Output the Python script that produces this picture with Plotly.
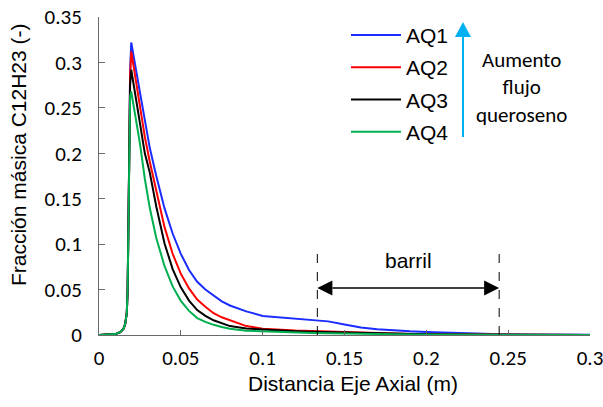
import plotly.graph_objects as go

x_dist = [0, 0.005, 0.01, 0.013, 0.015, 0.016, 0.017, 0.0175, 0.018, 0.0185, 0.019, 0.0197,
          0.022, 0.025, 0.028, 0.031, 0.035, 0.04, 0.045, 0.05, 0.055, 0.06, 0.065, 0.07,
          0.075, 0.08, 0.09, 0.1, 0.11, 0.12, 0.13, 0.14, 0.15, 0.16, 0.17, 0.18, 0.19,
          0.2, 0.22, 0.24, 0.26, 0.28, 0.3]

aq1 = [0, 0.0003, 0.001, 0.003, 0.007, 0.012, 0.025, 0.05, 0.11, 0.2, 0.29, 0.322,
       0.298, 0.267, 0.236, 0.206, 0.175, 0.1396, 0.1117, 0.0893, 0.0715, 0.0585, 0.050, 0.043,
       0.037, 0.0325, 0.026, 0.021, 0.0195, 0.0183, 0.017, 0.015, 0.0115, 0.0082, 0.0064, 0.005, 0.004,
       0.0032, 0.002, 0.0012, 0.0006, 0.0003, 0.0002]

aq2 = [0, 0.0003, 0.001, 0.003, 0.007, 0.012, 0.025, 0.05, 0.11, 0.2, 0.285, 0.312,
       0.286, 0.252, 0.218, 0.191, 0.158, 0.119, 0.0894, 0.0673, 0.0513, 0.039, 0.031, 0.024,
       0.0195, 0.016, 0.0098, 0.007, 0.0058, 0.005, 0.0044, 0.0038, 0.003, 0.0024, 0.0019, 0.0015, 0.0012,
       0.001, 0.0007, 0.0005, 0.0003, 0.0002, 0.0001]

aq3 = [0, 0.0003, 0.001, 0.003, 0.007, 0.012, 0.025, 0.05, 0.11, 0.2, 0.275, 0.292,
       0.266, 0.232, 0.200, 0.179, 0.1415, 0.101, 0.0725, 0.0524, 0.0379, 0.0274, 0.021, 0.0162,
       0.013, 0.0098, 0.0072, 0.006, 0.005, 0.0042, 0.0036, 0.0031, 0.0026, 0.0021, 0.0017, 0.0013, 0.001,
       0.0008, 0.0005, 0.0003, 0.0002, 0.0001, 0.0001]

aq4 = [0, 0.0003, 0.001, 0.003, 0.007, 0.012, 0.025, 0.05, 0.11, 0.2, 0.262, 0.268,
       0.243, 0.211, 0.172, 0.140, 0.1068, 0.076, 0.0535, 0.0376, 0.0265, 0.0186, 0.0145, 0.0112,
       0.0088, 0.007, 0.0048, 0.004, 0.0033, 0.0028, 0.0023, 0.0019, 0.0015, 0.0012, 0.001, 0.0008, 0.0006,
       0.0005, 0.0003, 0.0002, 0.0001, 0.0001, 0.0]

series_names = ["AQ1", "AQ2", "AQ3", "AQ4"]
series_values = [aq1, aq2, aq3, aq4]
series_colors = ["#1a2cff", "#ff0000", "#000000", "#00b050"]

barril_start = 0.1334
barril_end = 0.2445
barril_top = 0.0983
barril_arrow_y = 0.0517

CAL = "Carlito, Lato, sans-serif"
ARIAL = "Liberation Sans, Arial, sans-serif"

fig = go.Figure()
for name, vals, col in zip(series_names, series_values, series_colors):
    fig.add_trace(go.Scatter(x=x_dist, y=vals, mode="lines", name=name, legendgroup=name,
                             line=dict(color=col, width=2)))

axis_common = dict(showline=True, linecolor="#6a6a6a", linewidth=1, ticks="inside",
                   tickcolor="#6a6a6a", showgrid=False, zeroline=False, automargin=False,
                   ticklabeloverflow="allow",
                   tickfont=dict(family=CAL, size=21, color="#000000"))

fig.update_layout(
    width=603, height=407,
    margin=dict(l=99, r=13, t=17, b=72),
    paper_bgcolor="white", plot_bgcolor="white",
    showlegend=True,
    legend=dict(x=0.503, y=1.007, xanchor="left", yanchor="top", bgcolor="rgba(0,0,0,0)",
                font=dict(family=ARIAL, size=21, color="#000000"),
                tracegroupgap=2, itemwidth=50),
    xaxis=dict(range=[0, 0.3], dtick=0.05, ticklen=5, ticklabelstandoff=4, **axis_common),
    yaxis=dict(range=[0, 0.35], dtick=0.05, ticklen=6, ticklabelstandoff=12, **axis_common),
)

# axis titles as annotations
fig.add_annotation(text="Distancia Eje Axial (m)", xref="paper", yref="paper",
                   x=0.517, y=-0.151, showarrow=False, xanchor="center", yanchor="middle",
                   font=dict(family=ARIAL, size=21, color="#000000"))
fig.add_annotation(text="Fracción másica C12H23 (-)", textangle=-90, xref="paper", yref="paper",
                   x=-0.165, y=0.569, showarrow=False, xanchor="center", yanchor="middle",
                   font=dict(family=ARIAL, size=21, color="#000000"))

# barril dashed lines
for xv in [barril_start, barril_end]:
    fig.add_shape(type="line", x0=xv, x1=xv, y0=0, y1=barril_top, xref="x", yref="y",
                  line=dict(color="#000000", width=1, dash="dash"))

# double arrow
hx = 0.0092
hy = 0.0083
fig.add_shape(type="line", x0=barril_start + hx, x1=barril_end - hx, y0=barril_arrow_y, y1=barril_arrow_y,
              xref="x", yref="y", line=dict(color="#404040", width=2))
fig.add_shape(type="path", xref="x", yref="y",
              path=f"M {barril_start},{barril_arrow_y} L {barril_start+hx},{barril_arrow_y+hy} L {barril_start+hx},{barril_arrow_y-hy} Z",
              fillcolor="#000000", line=dict(color="#000000", width=0))
fig.add_shape(type="path", xref="x", yref="y",
              path=f"M {barril_end},{barril_arrow_y} L {barril_end-hx},{barril_arrow_y+hy} L {barril_end-hx},{barril_arrow_y-hy} Z",
              fillcolor="#000000", line=dict(color="#000000", width=0))
fig.add_annotation(text="barril", x=(barril_start + barril_end) / 2, y=0.0825, xref="x", yref="y",
                   showarrow=False, xanchor="center", yanchor="middle",
                   font=dict(family=ARIAL, size=21, color="#000000"))

# cyan arrow (increase of kerosene flow)
ax_x = 0.7413
fig.add_shape(type="line", xref="paper", yref="paper", x0=ax_x, x1=ax_x, y0=0.6226, y1=0.95,
              line=dict(color="#00b0f0", width=2))
fig.add_shape(type="path", xref="paper", yref="paper",
              path=f"M {ax_x},0.984 L {ax_x-0.0163},0.937 L {ax_x+0.0163},0.937 Z",
              fillcolor="#00b0f0", line=dict(color="#00b0f0", width=0))
fig.add_annotation(text="Aumento<br>flujo<br>queroseno", xref="paper", yref="paper",
                   x=0.861, y=0.777, showarrow=False, align="center",
                   xanchor="center", yanchor="middle",
                   font=dict(family=CAL, size=21, color="#000000"))

fig.write_html("out.html")
